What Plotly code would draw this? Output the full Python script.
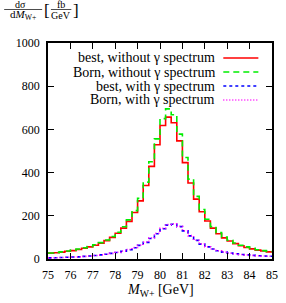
import plotly.graph_objects as go

# bin edges 75..85 GeV in 0.25 GeV steps
bin_lo = 75.0
bin_w = 0.25
best_without = [27,29,32,36,39,44,50,56,64,73,85,100,119,143,174,215,269,340,429,529,
                618,657,631,547,446,352,277,219,176,143,117,98,83,71,61,53,47,41,37,33]
born_without = [28,30,33,37,41,46,52,58,66,76,88,104,124,149,181,224,281,356,450,556,
                650,695,668,578,470,370,290,229,184,150,122,102,87,74,64,56,49,43,39,35]
best_with = [5,6,7,8,9,10,12,14,16,19,22,26,30,36,43,52,63,77,95,117,
             140,157,161,150,130,107,86,69,56,46,38,32,27,24,21,19,17,15,14,13]
born_with = [5,6,7,8,9,10,12,14,16,19,22,26,31,37,44,53,64,78,97,119,
             142,160,163,151,131,108,87,70,57,46,38,32,27,24,21,19,17,15,14,13]

names = ["best, without γ spectrum", "Born, without γ spectrum",
         "best, with γ spectrum", "Born, with γ spectrum"]
colors = ["#ff0000", "#00ee00", "#0000ff", "#ff00ff"]
dashes = ["solid", "6px,4px", "3px,3px", "1px,2px"]
series = [best_without, born_without, best_with, born_with]

xticks = list(range(75, 86))
yticks = [0, 200, 400, 600, 800, 1000]

edges = [bin_lo + i * bin_w for i in range(len(best_without) + 1)]

fig = go.Figure()
for vals, c, d, n in zip(series, colors, dashes, names):
    fig.add_trace(go.Scatter(x=edges, y=vals + [vals[-1]], mode="lines",
                             line=dict(color=c, width=1.6, dash=d, shape="hv"),
                             name=n, showlegend=False, hoverinfo="skip"))

W, H = 286, 303
L, R, T, B = 48, 8, 43, 44
pw, ph = W - L - R, H - T - B
def px(x):
    return (x - L) / pw
def py(y):
    return (H - B - y) / ph

serif = "Liberation Serif, DejaVu Serif, serif"
anns = []
shapes = []
rows = [58, 72, 86, 100]
for n, c, d, ry in zip(names, colors, dashes, rows):
    anns.append(dict(x=px(222), y=py(ry), xref="paper", yref="paper", text=n,
                     showarrow=False, xanchor="right", yanchor="middle",
                     font=dict(family=serif, size=14, color="black")))
    shapes.append(dict(type="line", xref="paper", yref="paper", x0=px(228), x1=px(264),
                       y0=py(ry), y1=py(ry), line=dict(color=c, width=1.6, dash=d)))

def ann(x, y, text, size=10):
    return dict(x=px(x), y=py(y), xref="paper", yref="paper", text=text, showarrow=False,
                xanchor="center", yanchor="middle",
                font=dict(family=serif, size=size, color="black"))

# y-axis label (fraction)
anns += [
    ann(20, 4.5, "dσ"),
    ann(22, 15.5, "d<i>M</i><sub>W+</sub>", 11),
    ann(47, 10.5, "[", 17),
    ann(61, 4.5, "fb"),
    ann(61, 15, "GeV"),
    ann(77, 10.5, "]", 17),
    ann(163, 290, "<i>M</i><sub>W+</sub> [GeV]", 14),
]
shapes += [
    dict(type="line", xref="paper", yref="paper", x0=px(3), x1=px(42), y0=py(9.5), y1=py(9.5),
         line=dict(color="black", width=0.7)),
    dict(type="line", xref="paper", yref="paper", x0=px(51), x1=px(72), y0=py(9.5), y1=py(9.5),
         line=dict(color="black", width=0.7)),
]

axis_common = dict(showgrid=False, zeroline=False, showline=True, linecolor="black",
                   linewidth=1.5, mirror="ticks", ticks="inside", ticklen=6,
                   tickwidth=1.3, tickcolor="black",
                   tickfont=dict(family=serif, size=12, color="black"))
fig.update_layout(
    width=W, height=H, margin=dict(l=L, r=R, t=T, b=B),
    paper_bgcolor="white", plot_bgcolor="white",
    xaxis=dict(range=[75, 85], tickvals=xticks, ticktext=[str(v) for v in xticks],
               ticklabelstandoff=4, **axis_common),
    yaxis=dict(range=[0, 1000], tickvals=yticks, ticktext=[str(v) for v in yticks],
               ticklabelstandoff=4, **axis_common),
    annotations=anns, shapes=shapes, showlegend=False, hovermode=False,
)
fig.write_html("out.html", config={"displayModeBar": False},
               post_script="document.body.style.margin='0';document.body.style.overflow='hidden';")
